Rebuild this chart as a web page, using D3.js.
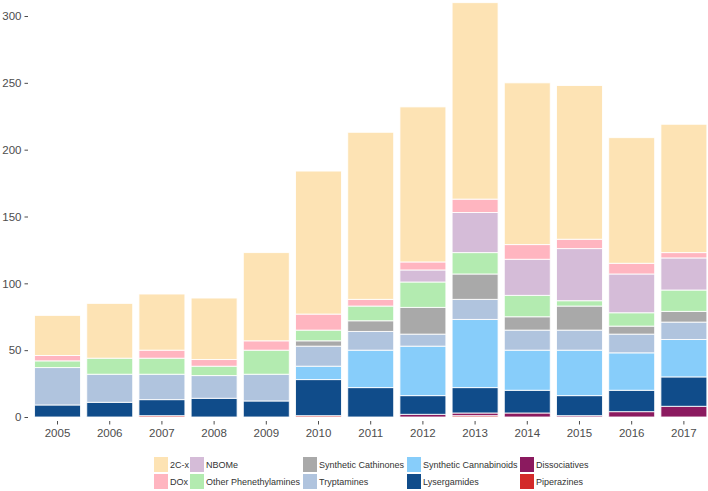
<!DOCTYPE html>
<html>
<head>
<meta charset="utf-8">
<script src="https://cdn.jsdelivr.net/npm/d3@7"></script>
<style>
  body { margin: 0; background: #fff; }
  svg { display: block; font-family: "Liberation Sans", Arial, sans-serif; }
</style>
</head>
<body>
<svg id="chart" width="708" height="491"></svg>
<script>
// ---- data ----
const years = ["2005","2006","2007","2008","2009","2010","2011","2012","2013","2014","2015","2016","2017"];
const piperazines   = [0, 0, 1, 0, 0, 1, 0, 0, 1, 0, 0, 0, 0];
const dissociatives = [0, 0, 0, 0, 0, 0, 0, 2, 2, 3, 1, 4, 8];
const lysergamides  = [9, 11, 12, 14, 12, 27, 22, 14, 19, 17, 15, 16, 22];
const cannabinoids  = [0, 0, 0, 0, 0, 10, 28, 37, 51, 30, 34, 28, 28];
const tryptamines   = [28, 21, 19, 17, 20, 15, 14, 9, 15, 15, 15, 14, 13];
const cathinones    = [0, 0, 0, 0, 0, 4, 8, 20, 19, 10, 18, 6, 8];
const otherPhen     = [5, 12, 12, 7, 18, 8, 11, 19, 16, 16, 4, 10, 16];
const nbome         = [0, 0, 0, 0, 0, 0, 0, 9, 30, 27, 39, 29, 24];
const dox           = [4, 0, 6, 5, 7, 12, 5, 6, 10, 11, 7, 8, 4];
const twoCx         = [30, 41, 42, 46, 66, 107, 125, 116, 147, 121, 115, 94, 96];
const yTicks = [0, 50, 100, 150, 200, 250, 300];

// stack order bottom -> top
const series = [
  {key: "Piperazines", values: piperazines, color: "#d32a2a"},
  {key: "Dissociatives", values: dissociatives, color: "#8b1a5f"},
  {key: "Lysergamides", values: lysergamides, color: "#104c8a"},
  {key: "Synthetic Cannabinoids", values: cannabinoids, color: "#87cdfa"},
  {key: "Tryptamines", values: tryptamines, color: "#b0c4de"},
  {key: "Synthetic Cathinones", values: cathinones, color: "#a9a9a9"},
  {key: "Other Phenethylamines", values: otherPhen, color: "#b3ebb0"},
  {key: "NBOMe", values: nbome, color: "#d5bcd8"},
  {key: "DOx", values: dox, color: "#ffb5c0"},
  {key: "2C-x", values: twoCx, color: "#fde3b4"}
];

// legend layout order (row-major as drawn)
const legendRows = [
  ["2C-x", "NBOMe", "Synthetic Cathinones", "Synthetic Cannabinoids", "Dissociatives"],
  ["DOx", "Other Phenethylamines", "Tryptamines", "Lysergamides", "Piperazines"]
];

const table = years.map((y, i) => {
  const row = {year: y};
  series.forEach(s => row[s.key] = s.values[i]);
  return row;
});

const svg = d3.select("#chart");
const x = d3.scaleBand().domain(years).range([31.4, 710]).paddingInner(0.119).paddingOuter(0.06);
const y = d3.scaleLinear().domain([0, 300]).range([417, 16]);
const colorOf = Object.fromEntries(series.map(s => [s.key, s.color]));

const stack = d3.stack().keys(series.map(s => s.key));
const stacked = stack(table);

const g = svg.append("g");
g.selectAll("g.layer").data(stacked).join("g")
  .attr("class", "layer")
  .attr("fill", d => colorOf[d.key])
  .selectAll("rect").data(d => d.filter(p => p[1] - p[0] > 0)).join("rect")
  .attr("x", d => x(d.data.year))
  .attr("width", x.bandwidth())
  .attr("y", d => y(d[1]))
  .attr("height", d => y(d[0]) - y(d[1]))
  .attr("stroke", "#ffffff")
  .attr("stroke-opacity", 0.85)
  .attr("stroke-width", 1);

// y axis
const yAxis = d3.axisLeft(y).tickValues(yTicks).tickSize(3.5).tickPadding(3);
const ya = svg.append("g").attr("transform", "translate(28,0)").call(yAxis);
ya.select(".domain").remove();
ya.selectAll("line").attr("stroke", "#4d4d4d");
ya.selectAll("text").attr("fill", "#4d4d4d").style("font-size", "11.5px");

// x axis
const xAxis = d3.axisBottom(x).tickSize(3.5).tickPadding(4);
const xa = svg.append("g").attr("transform", "translate(0,421)").call(xAxis);
xa.select(".domain").remove();
xa.selectAll("line").attr("stroke", "#4d4d4d");
xa.selectAll("text").attr("fill", "#4d4d4d").style("font-size", "11.5px");

// legend
const colX = [154, 190, 303, 407, 520];
const rowY = [457, 474];
const lg = svg.append("g");
legendRows.forEach((row, r) => {
  row.forEach((k, c) => {
    lg.append("rect")
      .attr("x", colX[c]).attr("y", rowY[r])
      .attr("width", 14).attr("height", 15)
      .attr("fill", colorOf[k]);
    lg.append("text")
      .attr("x", colX[c] + 16).attr("y", rowY[r] + 7.5)
      .attr("dy", "0.35em")
      .attr("fill", "#333")
      .style("font-size", "9px")
      .text(k);
  });
});
</script>
</body>
</html>
